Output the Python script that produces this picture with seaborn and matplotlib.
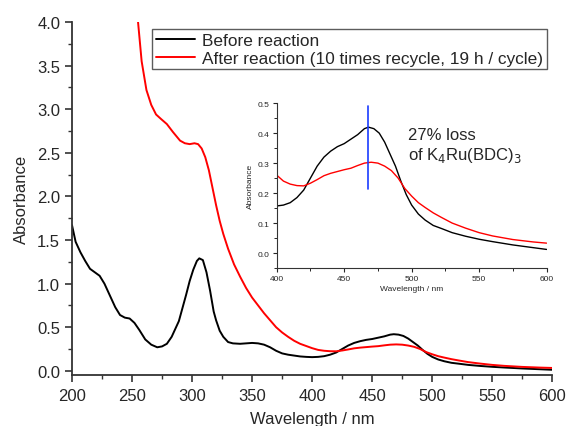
import numpy as np
import pandas as pd
import seaborn as sns
import matplotlib
matplotlib.use("Agg")
import matplotlib.pyplot as plt
from matplotlib.ticker import MultipleLocator

# wavelength (nm) and absorbance
wl_before = [200, 203, 207, 211, 215, 219, 223, 227, 232, 236, 240, 244, 248, 252,
             256, 261, 266, 271, 275, 279, 283, 286, 289, 292, 295, 298, 301, 304,
             306, 309, 312, 315, 318, 320, 323, 326, 330, 334, 340, 345, 350, 355,
             360, 365, 370, 375, 380, 385, 390, 395, 400, 405, 410, 415, 420, 425,
             430, 435, 440, 445, 450, 455, 460, 465, 468, 472, 476, 480, 484, 488,
             492, 496, 500, 505, 510, 516, 522, 530, 540, 550, 560, 575, 590, 600]
abs_before = [1.67, 1.48, 1.36, 1.26, 1.17, 1.13, 1.09, 1.00, 0.85, 0.73, 0.64, 0.61,
              0.60, 0.55, 0.47, 0.36, 0.30, 0.27, 0.28, 0.31, 0.39, 0.48, 0.57, 0.72,
              0.87, 1.03, 1.16, 1.26, 1.29, 1.27, 1.13, 0.92, 0.68, 0.58, 0.46, 0.39,
              0.33, 0.315, 0.31, 0.315, 0.32, 0.315, 0.30, 0.27, 0.23, 0.20, 0.185,
              0.175, 0.165, 0.16, 0.157, 0.16, 0.168, 0.185, 0.21, 0.25, 0.29, 0.32,
              0.34, 0.355, 0.365, 0.38, 0.395, 0.415, 0.42, 0.415, 0.40, 0.37, 0.33,
              0.29, 0.24, 0.195, 0.16, 0.13, 0.11, 0.092, 0.082, 0.068, 0.056, 0.046,
              0.038, 0.027, 0.018, 0.012]

wl_after = [255, 258, 262, 266, 270, 274, 279, 284, 290, 294, 298, 302, 305, 308,
            311, 314, 317, 320, 323, 326, 330, 335, 340, 345, 350, 355, 360, 365,
            370, 375, 380, 385, 390, 395, 400, 405, 410, 415, 420, 425, 430, 435,
            440, 445, 450, 455, 460, 465, 470, 475, 480, 485, 490, 495, 500, 505,
            510, 516, 522, 530, 540, 550, 560, 575, 590, 600]
abs_after = [4.0, 3.55, 3.22, 3.05, 2.94, 2.89, 2.83, 2.74, 2.64, 2.61, 2.60, 2.61,
             2.60, 2.55, 2.45, 2.30, 2.10, 1.90, 1.72, 1.57, 1.40, 1.22, 1.08, 0.95,
             0.84, 0.75, 0.66, 0.58, 0.50, 0.44, 0.39, 0.345, 0.31, 0.285, 0.26,
             0.24, 0.23, 0.225, 0.224, 0.233, 0.245, 0.258, 0.266, 0.272, 0.278,
             0.283, 0.292, 0.30, 0.303, 0.30, 0.29, 0.275, 0.25, 0.215, 0.19, 0.168,
             0.152, 0.134, 0.119, 0.100, 0.083, 0.068, 0.057, 0.045, 0.037, 0.033]

labels = ["Before reaction", "After reaction (10 times recycle, 19 h / cycle)"]
peak_wl = 468
peak_span = [0.215, 0.49]

df = pd.concat([
    pd.DataFrame({"wl": wl_before, "A": abs_before, "s": labels[0]}),
    pd.DataFrame({"wl": wl_after, "A": abs_after, "s": labels[1]}),
])
pal = {labels[0]: "black", labels[1]: "red"}

sns.set_style("ticks")
plt.rcParams["font.family"] = ["Liberation Sans", "DejaVu Sans"]
plt.rcParams["axes.edgecolor"] = "#333333"

fig = plt.figure(figsize=(5.67, 4.27), dpi=100)
ax = fig.add_axes([0.127, 0.119, 0.847, 0.827])
sns.lineplot(data=df, x="wl", y="A", hue="s", palette=pal, lw=1.4, ax=ax, sort=False)
ax.set_xlim(200, 600)
ax.set_ylim(-0.05, 4.0)
ax.xaxis.set_major_locator(MultipleLocator(50))
ax.xaxis.set_minor_locator(MultipleLocator(25))
ax.yaxis.set_major_locator(MultipleLocator(0.5))
ax.yaxis.set_minor_locator(MultipleLocator(0.25))
ax.tick_params(which="major", direction="out", length=5, width=1.2, labelsize=12, color="#333333")
ax.tick_params(axis="x", which="major", pad=4)
ax.tick_params(which="minor", direction="out", length=3, width=1.0, color="#333333")
ax.set_xlabel("Wavelength / nm", fontsize=12, labelpad=6)
ax.set_ylabel("Absorbance", fontsize=12, labelpad=6)
for sp in ["left", "bottom"]:
    ax.spines[sp].set_linewidth(1.3)
sns.despine(ax=ax)
leg = ax.legend(loc="upper left", bbox_to_anchor=(0.167, 0.979), fontsize=12.4,
                frameon=True, fancybox=False, edgecolor="#333333", handlelength=2.3,
                borderaxespad=0, borderpad=0.2, labelspacing=0.15, handletextpad=0.4)
leg.get_frame().set_linewidth(1.0)
for h in leg.get_lines():
    h.set_linewidth(1.4)

# inset
axi = fig.add_axes([0.488, 0.370, 0.476, 0.386])
sns.lineplot(data=df, x="wl", y="A", hue="s", palette=pal, lw=1.0, ax=axi,
             sort=False, legend=False)
axi.plot([peak_wl, peak_wl], peak_span, color="#1a3cff", lw=1.2)
axi.set_xlim(400, 600)
axi.set_ylim(-0.05, 0.5)
axi.xaxis.set_major_locator(MultipleLocator(50))
axi.xaxis.set_minor_locator(MultipleLocator(25))
axi.yaxis.set_major_locator(MultipleLocator(0.1))
axi.yaxis.set_minor_locator(MultipleLocator(0.05))
axi.tick_params(which="major", direction="out", length=3, width=0.8, labelsize=6, pad=2)
axi.tick_params(which="minor", direction="out", length=2, width=0.7)
axi.set_xlabel("Wavelength / nm", fontsize=6, labelpad=2)
axi.set_ylabel("Absorbance", fontsize=6, labelpad=3)
sns.despine(ax=axi)
axi.patch.set_alpha(0)
axi.text(497, 0.38, "27% loss", fontsize=12)
axi.text(497, 0.315, "of K$_4$Ru(BDC)$_3$", fontsize=12)

fig.savefig("out.png", dpi=100)
